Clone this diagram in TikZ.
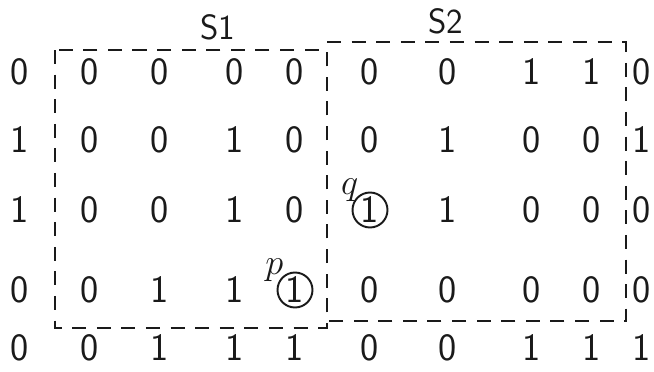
\documentclass[tikz,border=0pt]{standalone}
\usepackage{tikz}
\usepackage{xcolor}
\usetikzlibrary{positioning}
\definecolor{ink}{HTML}{1A1A1A}
\tikzset{
  bit/.style={font=\sffamily\fontsize{22}{24}\selectfont, text=ink, inner sep=0pt},
  region/.style={draw=ink, line width=1.1pt, dash pattern=on 8pt off 6pt},
  ringed/.style={circle, draw=ink, line width=1.1pt, minimum size=0.7cm, inner sep=0pt},
  tag/.style={font=\sffamily\fontsize{20}{22}\selectfont, text=ink, inner sep=1pt}
}
\def\colx{{20,90,160,235,295,370,448,532,592,642}}
\begin{document}
\begin{tikzpicture}[x=0.02cm, y=-0.02cm]
  \useasboundingbox (0,0) rectangle (654,372);
  % pixel values, one row at a time
  \foreach \r/\y/\vals in {1/72/{0,0,0,0,0,0,0,1,1,0},
                           2/140/{1,0,0,1,0,0,1,0,0,1},
                           3/210/{1,0,0,1,0,1,1,0,0,0},
                           4/290/{0,0,1,1,1,0,0,0,0,0},
                           5/348/{0,0,1,1,1,0,0,1,1,1}} {
    \foreach \v [count=\c] in \vals {
      \pgfmathsetmacro\xx{\colx[\c-1]}
      \node[bit] (b\r-\c) at (\xx,\y) {\v};
    }
  }
  % the two subsets (S2 shares the middle edge of S1)
  \draw[region] (55,50) rectangle (327,328);
  \draw[region] (327,42) -- (626,42) -- (626,321) -- (327,321);
  \node[tag] (s1) at (218,27) {S1};
  \node[tag] (s2) at (446,21) {S2};
  % marked pixels
  \node[ringed] (pc) at (b4-5) {};
  \node[ringed] (qc) at (b3-6) {};
  \node[tag, above left=-4pt and -2pt of pc] (p) {$p$};
  \node[tag, above left=-4pt and -2pt of qc] (q) {$q$};
\end{tikzpicture}
\end{document}
